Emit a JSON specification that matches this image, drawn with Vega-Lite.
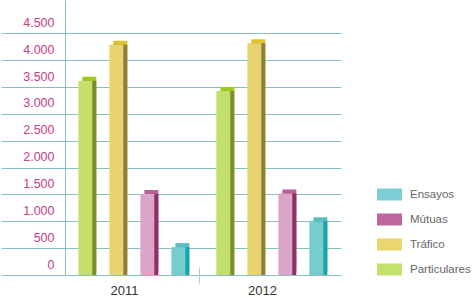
{
  "$schema": "https://vega.github.io/schema/vega-lite/v6.json",
  "width": 276,
  "height": 275,
  "padding": {"left": 0, "top": 0, "right": 0, "bottom": 0},
  "background": "white",
  "data": {
    "values": [
      {"year": "2011", "series": "Particulares", "value": 3620},
      {"year": "2011", "series": "Tráfico", "value": 4290},
      {"year": "2011", "series": "Mútuas", "value": 1510},
      {"year": "2011", "series": "Ensayos", "value": 520},
      {"year": "2012", "series": "Particulares", "value": 3430},
      {"year": "2012", "series": "Tráfico", "value": 4320},
      {"year": "2012", "series": "Mútuas", "value": 1520},
      {"year": "2012", "series": "Ensayos", "value": 1000}
    ]
  },
  "encoding": {
    "x": {
      "field": "year",
      "type": "nominal",
      "scale": {"paddingInner": 0, "paddingOuter": 0},
      "axis": {
        "title": null,
        "domain": false,
        "grid": false,
        "ticks": true,
        "tickSize": 16,
        "tickOffset": -73,
        "labelOffset": 63,
        "offset": -8,
        "tickColor": {"condition": {"test": "datum.value === '2011'", "value": "rgba(0,0,0,0)"}, "value": "#a9d1d5"},
        "labelColor": "#333333",
        "labelFont": "Liberation Sans",
        "labelFontSize": 13,
        "labelPadding": 1,
        "labelAngle": 0
      }
    },
    "y": {
      "field": "value",
      "type": "quantitative",
      "scale": {"domain": [0, 5124], "nice": false},
      "axis": {
        "title": null,
        "values": [0, 500, 1000, 1500, 2000, 2500, 3000, 3500, 4000, 4500],
        "labelExpr": "replace(format(datum.value, ','), ',', '.')",
        "grid": true,
        "gridColor": "#86c0c4",
        "gridWidth": 1,
        "domain": true,
        "domainColor": "#86c0c4",
        "domainWidth": 1,
        "ticks": true,
        "tickSize": 64,
        "tickColor": "#86c0c4",
        "tickWidth": 1,
        "labelPadding": -53,
        "labelColor": "#c93c86",
        "labelFont": "Liberation Sans",
        "labelFontSize": 12.5,
        "labelBaseline": "alphabetic",
        "labelOffset": -7,
        "labelAlign": "right"
      }
    }
  },
  "layer": [
    {
      "mark": {"type": "bar", "yOffset": -4, "y2Offset": -4},
      "encoding": {
        "xOffset": {"field": "series", "type": "nominal",
          "scale": {"domain": ["Particulares", "Tráfico", "Mútuas", "Ensayos"], "paddingInner": 0.55, "paddingOuter": 0.5, "align": 0.56}},
        "fill": {"field": "series", "type": "nominal", "legend": null,
          "scale": {"domain": ["Particulares", "Tráfico", "Mútuas", "Ensayos"], "range": ["#9dc81f", "#dfc22a", "#b8619a", "#5bbcc2"]}}
      }
    },
    {
      "mark": {"type": "bar"},
      "encoding": {
        "xOffset": {"field": "series", "type": "nominal",
          "scale": {"domain": ["Particulares", "Tráfico", "Mútuas", "Ensayos"], "paddingInner": 0.55, "paddingOuter": 0.5, "align": 0.56}},
        "fill": {"field": "series", "type": "nominal", "legend": null,
          "scale": {"domain": ["Particulares", "Tráfico", "Mútuas", "Ensayos"], "range": ["#7d8c2f", "#8f7f3a", "#8d2f62", "#17a3a7"]}}
      }
    },
    {
      "mark": {"type": "bar"},
      "encoding": {
        "xOffset": {"field": "series", "type": "nominal",
          "scale": {"domain": ["Particulares", "Tráfico", "Mútuas", "Ensayos"], "paddingInner": 0.55, "paddingOuter": 0.5, "align": 0.43}},
        "fill": {"field": "series", "type": "nominal", "legend": null,
          "scale": {"domain": ["Particulares", "Tráfico", "Mútuas", "Ensayos"], "range": ["#c5df6b", "#e8d46f", "#dba5ca", "#76cdd0"]}}
      }
    },
    {
      "transform": [{"filter": "false"}],
      "mark": {"type": "bar"},
      "encoding": {
        "xOffset": {"field": "series", "type": "nominal",
          "scale": {"domain": ["Particulares", "Tráfico", "Mútuas", "Ensayos"], "paddingInner": 0.55, "paddingOuter": 0.5, "align": 0.43}},
        "fill": {"field": "series", "type": "nominal",
          "scale": {"domain": ["Particulares", "Tráfico", "Mútuas", "Ensayos"], "range": ["#c4e16b", "#ead56f", "#c0649e", "#7bcfd4"]},
          "legend": {
            "orient": "none",
            "legendX": 312,
            "legendY": 182,
            "title": null,
            "values": ["Ensayos", "Mútuas", "Tráfico", "Particulares"],
            "symbolType": "M-1,-0.48H1V0.48H-1Z",
            "symbolSize": 625,
            "symbolStrokeWidth": 0,
            "symbolOpacity": 1,
            "labelOffset": 8,
            "labelFont": "Liberation Sans",
            "labelFontSize": 11.5,
            "labelColor": "#666666",
            "rowPadding": 6,
            "padding": 0
          }
        }
      }
    }
  ],
  "resolve": {"scale": {"fill": "independent", "xOffset": "independent"}},
  "config": {"view": {"stroke": null}}
}
